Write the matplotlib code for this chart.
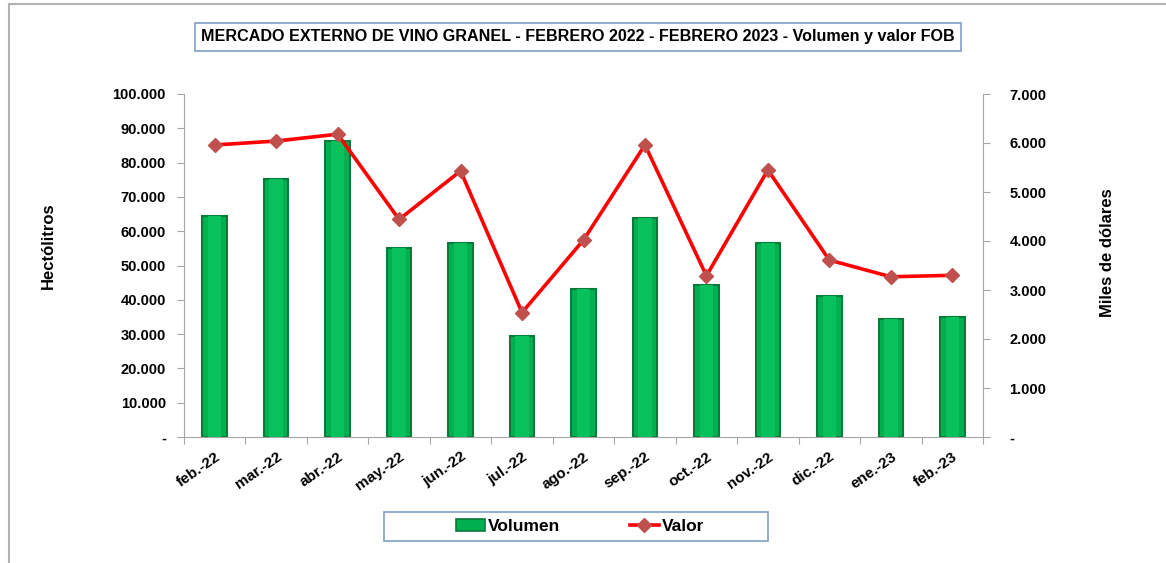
import numpy as np
import matplotlib; matplotlib.use('Agg')
import matplotlib.pyplot as plt
from matplotlib.patches import Rectangle
from matplotlib.lines import Line2D
from matplotlib.ticker import FixedLocator, FuncFormatter

plt.rcParams['font.family'] = ['Liberation Sans', 'DejaVu Sans']
plt.rcParams['font.weight'] = 'bold'

# ── Data ─────────────────────────────────────────────────────────────────────
meses   = ['feb.-22', 'mar.-22', 'abr.-22', 'may.-22', 'jun.-22', 'jul.-22', 'ago.-22',
           'sep.-22', 'oct.-22', 'nov.-22', 'dic.-22', 'ene.-23', 'feb.-23']
volumen = [64400, 75200, 86400, 55200, 56600, 29400, 43100,
           63900, 44400, 56600, 41000, 34400, 35000]      # hectólitros
valor   = [5960, 6040, 6180, 4440, 5430, 2540, 4020,
           5960, 3290, 5450, 3610, 3270, 3300]            # miles de dólares

TITLE = 'MERCADO EXTERNO DE VINO GRANEL - FEBRERO 2022 - FEBRERO 2023 - Volumen y valor FOB'

GREEN  = '#00B050'
DGREEN = '#0A7A3A'
RED    = '#FF0000'
MARK   = '#C0504D'
GRAY   = '#A6A6A6'

def miles(v, _pos=None):
    if v == 0:
        return '-'
    return f'{int(round(v)):,}'.replace(',', '.')

# ── Figure ───────────────────────────────────────────────────────────────────
fig = plt.figure(figsize=(11.66, 5.63), dpi=100)
W, H = 1166, 563
ax = fig.add_axes([184 / W, 1 - 437 / H, (983 - 184) / W, (437 - 94) / H])
ax2 = ax.twinx()

x = np.arange(len(meses))
ax.bar(x, volumen, width=0.4, color=GREEN, edgecolor=DGREEN, lw=1.5, zorder=2)
# bevel highlight on each bar
ax.bar(x, volumen, width=0.22, color='#08C05C', lw=0, zorder=3)

ax2.plot(x, valor, color=RED, lw=2.6, marker='D', ms=7.5,
         mfc=MARK, mec=MARK, zorder=5)

ax.set_xlim(-0.5, len(meses) - 0.5)
ax.set_ylim(0, 100000)
ax2.set_ylim(0, 7000)
ax.yaxis.set_major_locator(FixedLocator(np.arange(0, 100001, 10000)))
ax2.yaxis.set_major_locator(FixedLocator(np.arange(0, 7001, 1000)))
ax.yaxis.set_major_formatter(FuncFormatter(miles))
ax2.yaxis.set_major_formatter(FuncFormatter(miles))

# category boundary ticks on x
ax.set_xticks(np.arange(-0.5, len(meses), 1.0), minor=False)
ax.set_xticklabels([])
ax.set_xticks(x, minor=True)
ax.set_xticklabels(meses, minor=True, rotation=35, ha='right', va='top',
                   rotation_mode='anchor', fontsize=11, fontweight='bold')
ax.tick_params(axis='x', which='minor', length=0, pad=9)
ax.tick_params(axis='x', which='major', length=5, color=GRAY, direction='out')

for a in (ax, ax2):
    for s in a.spines.values():
        s.set_visible(False)
    a.tick_params(axis='y', length=5, color=GRAY, direction='out', labelsize=10.5)
ax.tick_params(axis='y', pad=8)
ax2.tick_params(axis='y', pad=14)
ax.spines['left'].set_visible(True)
ax.spines['left'].set_color(GRAY)
ax.spines['bottom'].set_visible(True)
ax.spines['bottom'].set_color(GRAY)
ax2.spines['right'].set_visible(True)
ax2.spines['right'].set_color(GRAY)
for lbl in ax.get_yticklabels() + ax2.get_yticklabels():
    lbl.set_fontweight('bold')

fig.text(48 / W, 1 - 246 / H, 'Hectólitros', rotation=90, ha='center', va='center',
         fontsize=12, fontweight='bold')
fig.text(1107 / W, 1 - 253 / H, 'Miles de dólares', rotation=90, ha='center',
         va='center', fontsize=12, fontweight='bold')

# title box
fig.text(578 / W, 1 - 37 / H, TITLE, ha='center', va='center', fontsize=11.6,
         fontweight='bold',
         bbox=dict(boxstyle='square,pad=0.4', fc='white', ec='#7F9DC8', lw=1.2))

# legend
handles = [Rectangle((0, 0), 1, 1, fc=GREEN, ec=DGREEN, lw=1.2),
           Line2D([0], [0], color=RED, lw=2.6, marker='D', ms=7.5, mfc=MARK, mec=MARK)]
fig.add_artist(Rectangle((384 / W, 1 - 541 / H), 384 / W, 29 / H,
                         transform=fig.transFigure, fc='white', ec='#7F9DC8', lw=1.2))
leg = fig.legend(handles, ['Volumen', 'Valor'], ncol=2,
                 bbox_to_anchor=(580 / W, 1 - 526.5 / H), loc='center',
                 frameon=False, handlelength=1.7, handletextpad=0.15,
                 columnspacing=4.0, prop={'weight': 'bold', 'size': 12.5})

# outer chart frame (left + top edges)
fig.add_artist(Line2D([8.5 / W, 8.5 / W], [0, 1 - 4 / H], color='#B3B3B3', lw=1.5))
fig.add_artist(Line2D([8.5 / W, 1], [1 - 4 / H, 1 - 4 / H], color='#B3B3B3', lw=1.5))

fig.savefig('out.png', dpi=100)
